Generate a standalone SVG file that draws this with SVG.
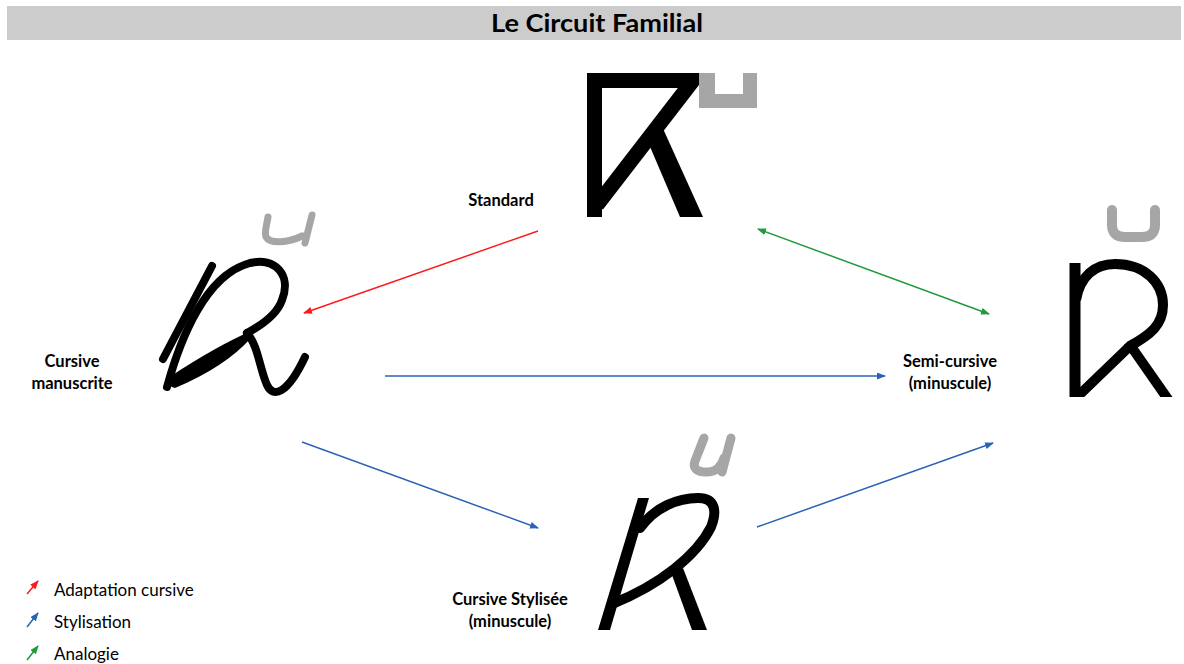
<svg xmlns="http://www.w3.org/2000/svg" width="1184" height="664" viewBox="0 0 1184 664">
<style>
.t{font-family:Lato,"Liberation Sans",sans-serif;fill:#000}
.lbl{font-size:16.5px;font-weight:700;text-anchor:middle}
.leg{font-size:17px}
.ink{fill:none;stroke:#000;stroke-linecap:round;stroke-linejoin:round}
.gray{fill:none;stroke:#a6a6a6;stroke-linecap:round;stroke-linejoin:round}
.c{fill:none;stroke-width:1.5}
.red{stroke:#ff1a1a}
.blue{stroke:#2b62b5}
.green{stroke:#1f9a3e}
</style>
<defs>
<marker id="mr" markerWidth="9" markerHeight="7" refX="8" refY="3.5" orient="auto" markerUnits="userSpaceOnUse"><path d="M0,0 L9,3.5 L0,7 Z" fill="#ff1a1a"/></marker>
<marker id="mb" markerWidth="9" markerHeight="7" refX="8" refY="3.5" orient="auto" markerUnits="userSpaceOnUse"><path d="M0,0 L9,3.5 L0,7 Z" fill="#2b62b5"/></marker>
<marker id="mg" markerWidth="9" markerHeight="7" refX="8" refY="3.5" orient="auto-start-reverse" markerUnits="userSpaceOnUse"><path d="M0,0 L9,3.5 L0,7 Z" fill="#1f9a3e"/></marker>
<clipPath id="clipTop"><rect x="560" y="60" width="220" height="157"/></clipPath>
<clipPath id="clipRight"><rect x="1050" y="255" width="134" height="142"/></clipPath>
</defs>
<rect width="1184" height="664" fill="#fff"/>
<g id="title">
<rect x="7" y="6" width="1174" height="34" fill="#cccccc"/>
<text class="t" x="597" y="32" font-size="25" font-weight="700" text-anchor="middle" textLength="212" lengthAdjust="spacingAndGlyphs">Le Circuit Familial</text>
</g>
<g id="connectors">
<line class="c red" x1="538" y1="231" x2="304" y2="313" marker-end="url(#mr)"/>
<line class="c blue" x1="385" y1="376" x2="885" y2="376" marker-end="url(#mb)"/>
<line class="c blue" x1="302" y1="442" x2="538" y2="528" marker-end="url(#mb)"/>
<line class="c blue" x1="757" y1="527" x2="993" y2="443" marker-end="url(#mb)"/>
<line class="c green" x1="758" y1="229" x2="989" y2="314" marker-start="url(#mg)" marker-end="url(#mg)"/>
</g>
<g id="node-standard">
<g clip-path="url(#clipTop)">
<path d="M594.5,230 V80.5 H693 L597,205" fill="none" stroke="#000" stroke-width="15" stroke-linejoin="miter" stroke-miterlimit="10"/>
</g>
<polygon points="648,142 660,122 703,217 680,217" fill="#000"/>
<path d="M699,73 H715 V94 H743 V73 H757 V108 H699 Z" fill="#a6a6a6"/>
<text class="t lbl" x="501" y="206">Standard</text>
</g>
<g id="node-cursive-manuscrite">
<path class="gray" stroke-width="7" d="M268,217 C267,224 264,232 266,237 C270,244 288,243 302,236 M312,215 L305,243"/>
<path class="ink" stroke-width="8" d="M212,266 L163,359"/>
<path class="ink" stroke-width="8" d="M167,387 C180,340 205,275 250,263 C275,257 292,275 282,300 C277,315 262,325 247,333"/>
<path d="M251,331 Q215,347 171,376 Q165,385 175,388 Q225,367 251,338 Z" fill="#000"/>
<path class="ink" stroke-width="8" d="M247,333 C258,345 260,370 267,385 C273,398 287,395 305,357"/>
<text class="t lbl" x="72" y="367">Cursive</text>
<text class="t lbl" x="72" y="389">manuscrite</text>
</g>
<g id="node-semi-cursive">
<path class="gray" stroke-width="10" stroke-linecap="butt" d="M1112,210 V225 Q1112,237 1125,237 H1142 Q1155,237 1155,225 V210"/>
<g clip-path="url(#clipRight)">
<path d="M1075,263 V405" fill="none" stroke="#000" stroke-width="11"/>
<path d="M1076,300 C1080,276 1095,264 1115,264 C1145,264 1163,283 1163,305 C1163,325 1150,335 1130,346 L1076,398" fill="none" stroke="#000" stroke-width="10" stroke-linejoin="round"/>
<path d="M1128,342 L1172,405" fill="none" stroke="#000" stroke-width="10"/>
</g>
<text class="t lbl" x="950" y="367">Semi-cursive</text>
<text class="t lbl" x="950" y="389">(minuscule)</text>
</g>
<g id="node-cursive-stylisee">
<path class="gray" stroke-width="9" d="M704,438 L695,461 C692,469 698,472 706,472 C716,472 721,467 724,458 M731,438 L722,472"/>
<polygon points="638,498 649,498 610,630 598,630" fill="#000"/>
<path class="ink" stroke-width="10" stroke-linecap="butt" d="M640,528 C655,507 678,498 698,498 C716,498 717,512 711,527 C697,555 660,585 612,604"/>
<polygon points="672,575 683,568 707,630 692,630" fill="#000"/>
<text class="t lbl" x="510" y="605">Cursive Stylisée</text>
<text class="t lbl" x="510" y="627">(minuscule)</text>
</g>
<g id="legend">
<line class="c red" x1="27" y1="594" x2="38" y2="581" marker-end="url(#mr)"/>
<line class="c blue" x1="27" y1="627" x2="38" y2="613" marker-end="url(#mb)"/>
<line class="c green" x1="27" y1="660" x2="38" y2="646" marker-end="url(#mg)"/>
<text class="t leg" x="54" y="596">Adaptation cursive</text>
<text class="t leg" x="54" y="628">Stylisation</text>
<text class="t leg" x="54" y="660">Analogie</text>
</g>
</svg>
